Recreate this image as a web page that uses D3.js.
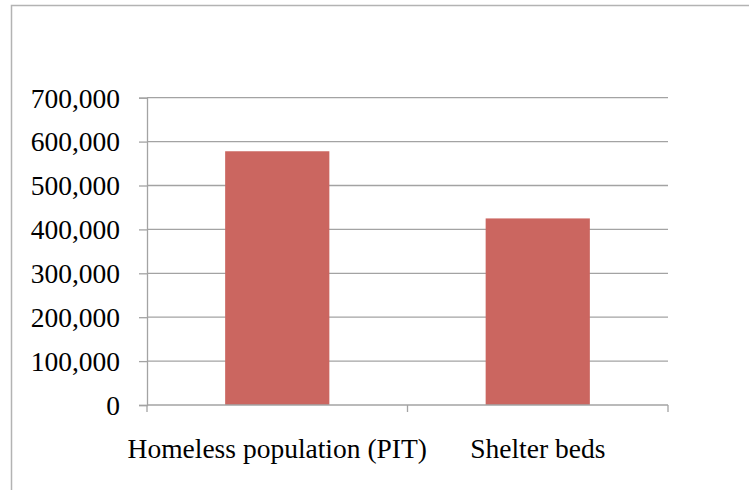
<!DOCTYPE html>
<html>
<head>
<meta charset="utf-8">
<script src="https://cdn.jsdelivr.net/npm/d3@7"></script>
<style>
  html, body { margin: 0; padding: 0; background: #fff; }
  svg { display: block; }
</style>
</head>
<body>
<script>
const categories = ["Homeless population (PIT)", "Shelter beds"];
const values = [578000, 425000];
const yTicks = [0, 100000, 200000, 300000, 400000, 500000, 600000, 700000];

const W = 749, H = 490;
const plot = { left: 147, right: 668, top: 97.7, bottom: 405 };
const fontFamily = "'Liberation Serif', 'Times New Roman', serif";
const fontSize = 27.5;
const gridColor = "#A3A3A3";
const barColor = "#CB6660";

const svg = d3.select("body").append("svg").attr("width", W).attr("height", H);

// outer chart border
svg.append("rect")
  .attr("x", 11.5).attr("y", 5.5)
  .attr("width", 800).attr("height", 600)
  .attr("fill", "#fff").attr("stroke", "#B3B3B3").attr("stroke-width", 1.5);

const x = d3.scaleBand().domain(categories)
  .range([plot.left, plot.right])
  .paddingInner(0.6).paddingOuter(0.3);
const y = d3.scaleLinear().domain([0, 700000]).range([plot.bottom, plot.top]);

// gridlines
svg.append("g").selectAll("line").data(yTicks.filter(d => d > 0)).join("line")
  .attr("x1", plot.left).attr("x2", plot.right)
  .attr("y1", d => y(d)).attr("y2", d => y(d))
  .attr("stroke", gridColor).attr("stroke-width", 1.3);

// bars
svg.append("g").selectAll("rect").data(values).join("rect")
  .attr("x", (d, i) => x(categories[i]))
  .attr("width", x.bandwidth())
  .attr("y", d => y(d))
  .attr("height", d => y(0) - y(d))
  .attr("fill", barColor);

// y axis
const yAxis = svg.append("g").attr("transform", `translate(${plot.left},0)`)
  .call(d3.axisLeft(y).tickValues(yTicks).tickSize(8).tickPadding(19)
    .tickFormat(d3.format(",")));
yAxis.selectAll("path, line").attr("stroke", gridColor).attr("stroke-width", 1.3);
yAxis.selectAll("text")
  .attr("font-family", fontFamily).attr("font-size", fontSize)
  .attr("fill", "#000").attr("dy", "0.34em");

// x axis baseline and boundary ticks
const boundaries = [plot.left, ...categories.slice(1).map(c => x(c) - x.step() * x.paddingInner() / 2), plot.right];
const xg = svg.append("g");
xg.append("line")
  .attr("x1", plot.left).attr("x2", plot.right)
  .attr("y1", y(0)).attr("y2", y(0))
  .attr("stroke", gridColor).attr("stroke-width", 1.3);
xg.selectAll("line.tick").data(boundaries).join("line").attr("class", "tick")
  .attr("x1", d => d).attr("x2", d => d)
  .attr("y1", y(0)).attr("y2", y(0) + 7)
  .attr("stroke", gridColor).attr("stroke-width", 1.3);

// x labels
const xAxis = svg.append("g").attr("transform", `translate(0,${plot.bottom})`)
  .call(d3.axisBottom(x).tickSize(0).tickPadding(33));
xAxis.select(".domain").remove();
xAxis.selectAll("text")
  .attr("font-family", fontFamily).attr("font-size", fontSize)
  .attr("fill", "#000");
</script>
</body>
</html>
